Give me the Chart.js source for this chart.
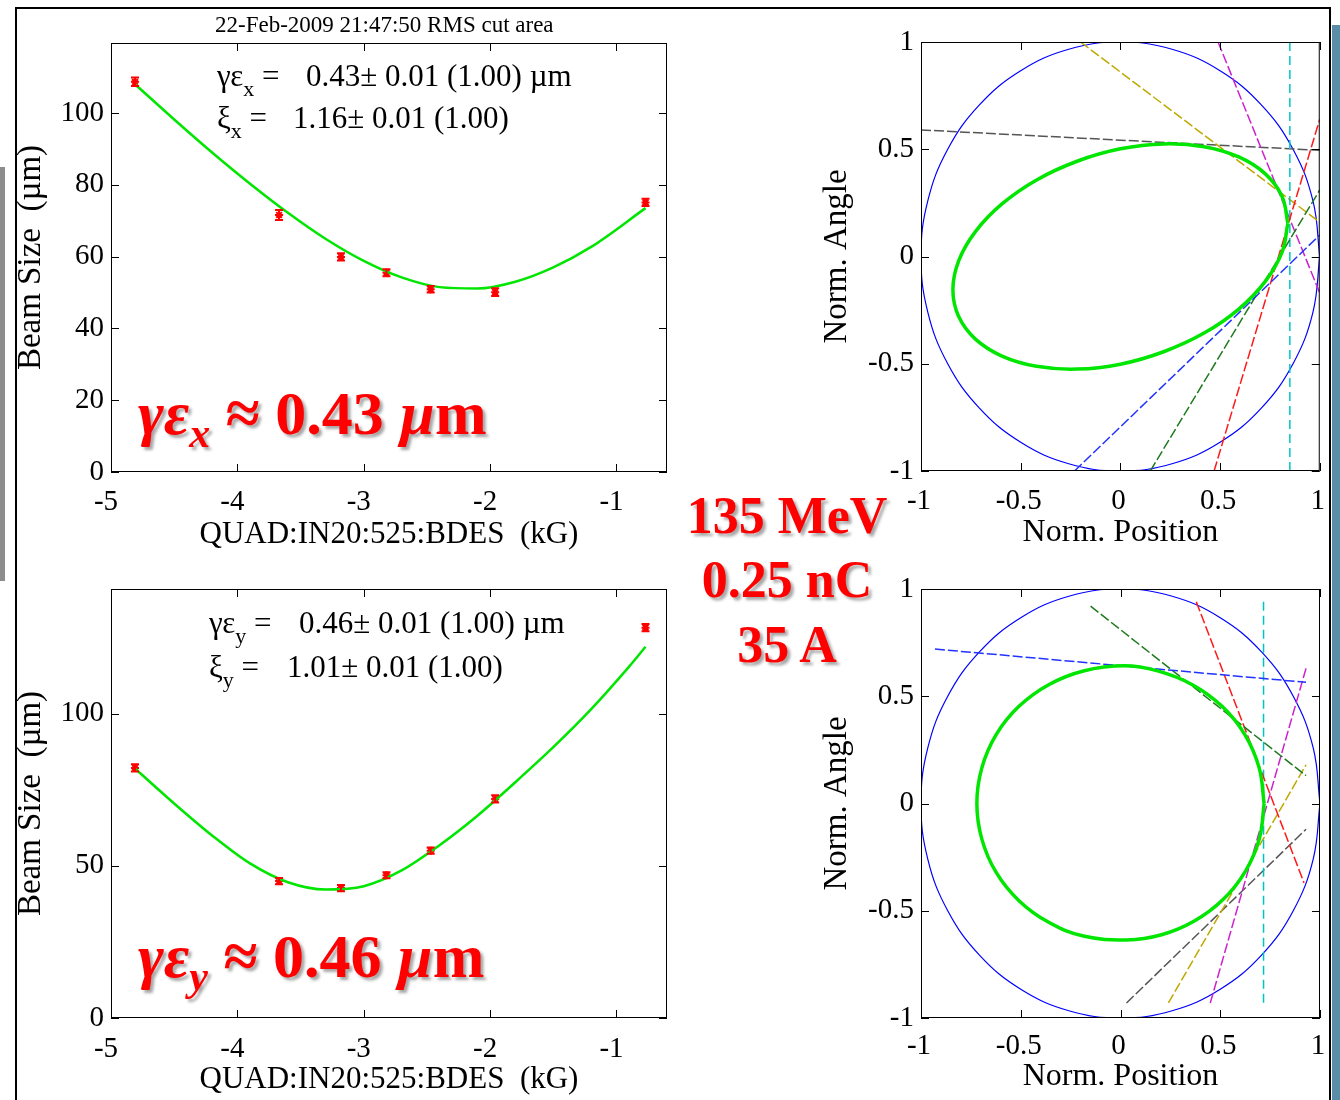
<!DOCTYPE html>
<html>
<head>
<meta charset="utf-8">
<script src="https://cdn.jsdelivr.net/npm/chart.js@4.4.0/dist/chart.umd.min.js"></script>
<style>
body { margin: 0; background: #fff; width: 1340px; height: 1100px; position: relative; overflow: hidden;
  font-family: "Liberation Serif", "Times New Roman", serif; }
canvas { position: absolute; }
.abs { position: absolute; white-space: pre; line-height: 1; color: #000; }
.stat { font-size: 31px; }
.stat sub { font-size: 22px; vertical-align: -10px; line-height: 0; }
.big { font-size: 62px; font-weight: bold; color: #ff0000; text-shadow: 3px 3px 3px rgba(0,0,0,0.35); }
.big i { font-style: italic; }
.big sub { font-size: 42px; font-style: italic; vertical-align: -13px; line-height: 0; }
.mid { font-size: 52px; font-weight: bold; color: #ff0000; text-shadow: 3px 3px 3px rgba(0,0,0,0.35);
  width: 240px; text-align: center; left: 667px; }
</style>
</head>
<body>

<div class="abs" style="left:0;top:167px;width:5px;height:414px;background:#8c8c8c"></div>
<div class="abs" style="left:15px;top:7px;width:1312px;height:1110px;border:2px solid #000;border-bottom:none"></div>
<div class="abs" style="left:1332px;top:25px;width:8px;height:1075px;background:#5a8ea8"></div>

<canvas id="cx" width="680" height="560" style="left:0;top:0"></canvas>
<canvas id="cy" width="680" height="540" style="left:0;top:560px"></canvas>
<canvas id="px" width="550" height="560" style="left:790px;top:0"></canvas>
<canvas id="py" width="550" height="540" style="left:790px;top:560px"></canvas>

<div class="abs" style="left:215px;top:13px;font-size:23px">22-Feb-2009 21:47:50 RMS cut area</div>

<div class="abs stat" style="left:217px;top:60px">γε<sub>x</sub> =</div>
<div class="abs stat" style="left:306px;top:60px">0.43± 0.01 (1.00) µm</div>
<div class="abs stat" style="left:217px;top:102px">ξ<sub>x</sub> =</div>
<div class="abs stat" style="left:293px;top:102px">1.16± 0.01 (1.00)</div>

<div class="abs stat" style="left:209px;top:607px">γε<sub>y</sub> =</div>
<div class="abs stat" style="left:299px;top:607px">0.46± 0.01 (1.00) µm</div>
<div class="abs stat" style="left:209px;top:651px">ξ<sub>y</sub> =</div>
<div class="abs stat" style="left:287px;top:651px">1.01± 0.01 (1.00)</div>

<div class="abs big" style="left:138px;top:382px"><i>γε</i><sub>x</sub> ≈ 0.43 <i>µ</i>m</div>
<div class="abs big" style="left:138px;top:925px"><i>γε</i><sub>y</sub> ≈ 0.46 <i>µ</i>m</div>

<div class="abs mid" style="top:490px">135 MeV</div>
<div class="abs mid" style="top:554px">0.25 nC</div>
<div class="abs mid" style="top:619px">35 A</div>

<script>
// quad scan: measured points (kG, um) and error bars
var quadKG = [-4.81, -3.67, -3.18, -2.82, -2.47, -1.96, -0.77];
var sizeX = [108.7, 71.6, 59.9, 55.5, 50.9, 50.1, 75.1];
var errX = [1.2, 1.4, 1.0, 1.0, 0.9, 1.1, 1.0];
var sizeY = [82.2, 45.0, 42.7, 46.9, 55.0, 72.0, 128.3];
var errY = [1.2, 1.0, 1.0, 1.0, 1.0, 1.2, 1.2];

// fitted curves
var fitQuadX = [-4.81, -4.5, -4.2, -3.9, -3.6, -3.3, -3.0, -2.7, -2.4, -2.1, -1.8, -1.5, -1.2, -0.77];
var fitX = [108.0, 98.2, 89.0, 80.3, 72.2, 64.9, 58.8, 54.2, 51.5, 51.1, 53.0, 57.0, 62.7, 73.5];
var fitQuadY = [-4.81, -4.5, -4.2, -3.9, -3.6, -3.3, -3.0, -2.7, -2.4, -2.1, -1.8, -1.5, -1.2, -0.9, -0.77];
var fitY = [82.0, 70.5, 60.0, 50.8, 44.6, 42.2, 43.3, 48.5, 56.8, 66.5, 77.5, 89.0, 101.5, 115.5, 122.0];

// phase space: unit circle
var circX = [1, 0.966, 0.866, 0.707, 0.5, 0.259, 0, -0.259, -0.5, -0.707, -0.866, -0.966, -1,
  -0.966, -0.866, -0.707, -0.5, -0.259, 0, 0.259, 0.5, 0.707, 0.866, 0.966, 1];
var circY = [0, 0.259, 0.5, 0.707, 0.866, 0.966, 1, 0.966, 0.866, 0.707, 0.5, 0.259, 0,
  -0.259, -0.5, -0.707, -0.866, -0.966, -1, -0.966, -0.866, -0.707, -0.5, -0.259, 0];

// measured beam ellipses
var ellXx = [0.84, 0.811, 0.727, 0.594, 0.42, 0.217, 0, -0.217, -0.42, -0.594, -0.727, -0.811, -0.84,
  -0.811, -0.727, -0.594, -0.42, -0.217, 0, 0.217, 0.42, 0.594, 0.727, 0.811, 0.84];
var ellXy = [0.155, 0.020, -0.116, -0.245, -0.357, -0.444, -0.502, -0.525, -0.512, -0.464, -0.385, -0.280, -0.155,
  -0.020, 0.116, 0.245, 0.357, 0.444, 0.502, 0.525, 0.512, 0.464, 0.385, 0.280, 0.155];
var ellYx = [0.72, 0.695, 0.624, 0.509, 0.36, 0.186, 0.02, -0.186, -0.36, -0.509, -0.624, -0.695, -0.72,
  -0.695, -0.624, -0.509, -0.36, -0.186, 0.03, 0.206, 0.37, 0.514, 0.626, 0.696, 0.72];
var ellYy = [0, 0.166, 0.32, 0.453, 0.554, 0.618, 0.642, 0.618, 0.554, 0.453, 0.32, 0.166, 0,
  -0.166, -0.32, -0.453, -0.554, -0.618, -0.636, -0.612, -0.548, -0.448, -0.316, -0.164, 0];

// one line per quad setting: start / end points (blue, green, red, cyan, magenta, yellow, black)
var topLx0 = [-0.23, 0.15, 0.47, 0.85, 0.49, -0.2, -1];
var topLy0 = [-1, -1, -1, 1, 1, 1, 0.59];
var topLx1 = [1, 1, 1, 0.85, 1, 1, 1];
var topLy1 = [0.1, 0.31, 0.64, -1, -0.17, 0.16, 0.495];
var botLx0 = [-0.93, -0.15, 0.38, 0.717, 0.45, 0.24, 0.03];
var botLy0 = [0.72, 0.92, 0.94, 0.94, -0.93, -0.93, -0.93];
var botLx1 = [0.93, 0.93, 0.92, 0.717, 0.93, 0.93, 0.93];
var botLy1 = [0.565, 0.13, -0.37, -0.93, 0.63, 0.18, -0.12];

var lineColors = ['#2233ff', '#1f7a1f', '#ff1a1a', '#00c4c4', '#cc22cc', '#bfa800', '#555555'];
var FONT = '"Liberation Serif", "Times New Roman", serif';

function pairs(xs, ys) {
  return xs.map(function (x, i) { return { x: x, y: ys[i] }; });
}

// box round the plot with inward ticks on all four sides
var boxTicks = {
  id: 'boxTicks',
  afterDatasetsDraw: function (chart) {
    var ctx = chart.ctx, a = chart.chartArea;
    var sx = chart.scales.x, sy = chart.scales.y;
    ctx.save();
    ctx.strokeStyle = '#000';
    ctx.lineWidth = 1;
    ctx.strokeRect(a.left + 0.5, a.top + 0.5, a.right - a.left - 1, a.bottom - a.top - 1);
    ctx.beginPath();
    sx.ticks.forEach(function (t) {
      var p = Math.round(sx.getPixelForValue(t.value)) + 0.5;
      ctx.moveTo(p, a.bottom); ctx.lineTo(p, a.bottom - 8);
      ctx.moveTo(p, a.top); ctx.lineTo(p, a.top + 8);
    });
    sy.ticks.forEach(function (t) {
      var p = Math.round(sy.getPixelForValue(t.value)) + 0.5;
      ctx.moveTo(a.left, p); ctx.lineTo(a.left + 8, p);
      ctx.moveTo(a.right, p); ctx.lineTo(a.right - 8, p);
    });
    ctx.stroke();
    ctx.restore();
  }
};

var errorBars = {
  id: 'errorBars',
  afterDatasetsDraw: function (chart) {
    var ctx = chart.ctx, sx = chart.scales.x, sy = chart.scales.y;
    chart.data.datasets.forEach(function (ds) {
      if (!ds.errors) return;
      ctx.save();
      ctx.strokeStyle = '#ff0000';
      ctx.lineWidth = 2;
      ds.data.forEach(function (p, i) {
        var px = sx.getPixelForValue(p.x);
        var top = sy.getPixelForValue(p.y + ds.errors[i]);
        var bot = sy.getPixelForValue(p.y - ds.errors[i]);
        ctx.beginPath();
        ctx.moveTo(px, top); ctx.lineTo(px, bot);
        ctx.moveTo(px - 4, top); ctx.lineTo(px + 4, top);
        ctx.moveTo(px - 4, bot); ctx.lineTo(px + 4, bot);
        ctx.stroke();
      });
      ctx.restore();
    });
  }
};

function plainLabel(v) { return String(v); }

function makeOptions(c) {
  return {
    responsive: false,
    animation: false,
    events: [],
    layout: { padding: { left: 0, right: c.padRight, top: c.padTop, bottom: 0 } },
    plugins: { legend: { display: false }, tooltip: { enabled: false } },
    scales: {
      x: {
        type: 'linear', min: c.xMin, max: c.xMax,
        grid: { display: false, drawTicks: false }, border: { display: false },
        ticks: { stepSize: c.xStep, includeBounds: false, padding: c.xTickPad, labelOffset: c.labelOffset,
          color: '#000', font: { family: FONT, size: 29 }, callback: plainLabel },
        title: { display: true, text: c.xTitle, color: '#000', padding: { top: 0, bottom: c.xTitlePad },
          font: { family: FONT, size: c.xTitleSize } },
        afterFit: function (s) { s.height = c.xHeight; }
      },
      y: {
        type: 'linear', min: c.yMin, max: c.yMax,
        grid: { display: false, drawTicks: false }, border: { display: false },
        ticks: { stepSize: c.yStep, includeBounds: false, padding: 7, color: '#000',
          font: { family: FONT, size: 29 }, callback: plainLabel },
        title: { display: true, text: c.yTitle, color: '#000', padding: { top: c.yTitlePad, bottom: 0 },
          font: { family: FONT, size: 33 } },
        afterFit: function (s) { s.width = c.yWidth; }
      }
    }
  };
}

function scanChart(id, fitQ, fitS, sizes, errs, yMax, yStep, padTop, xHeight, xTickPad, xTitlePad) {
  new Chart(document.getElementById(id), {
    type: 'scatter',
    data: {
      datasets: [
        { data: pairs(fitQ, fitS), showLine: true, borderColor: '#00e600', borderWidth: 2.5,
          pointRadius: 0, cubicInterpolationMode: 'monotone' },
        { data: pairs(quadKG, sizes), errors: errs, pointStyle: 'star', pointRadius: 4,
          borderColor: '#ff0000', backgroundColor: '#ff0000', borderWidth: 2 }
      ]
    },
    options: makeOptions({
      padRight: 13, padTop: padTop, xMin: -5, xMax: -0.6, xStep: 1, xTickPad: xTickPad, labelOffset: -5,
      xTitle: 'QUAD:IN20:525:BDES  (kG)', xTitleSize: 31, xTitlePad: xTitlePad, xHeight: xHeight,
      yMin: 0, yMax: yMax, yStep: yStep, yTitle: 'Beam Size  (µm)', yTitlePad: 12, yWidth: 111
    }),
    plugins: [boxTicks, errorBars]
  });
}

function phaseChart(id, ex, ey, lx0, ly0, lx1, ly1, padTop, xHeight, xTickPad, xTitlePad) {
  var sets = [
    { data: pairs(ex, ey), showLine: true, borderColor: '#00e600', borderWidth: 3.5,
      pointRadius: 0, tension: 0.4 }
  ];
  lx0.forEach(function (x, i) {
    sets.push({ data: pairs([x, lx1[i]], [ly0[i], ly1[i]]), showLine: true,
      borderColor: lineColors[i], borderWidth: 1.5, borderDash: i === 3 ? [9, 5] : [10, 3],
      pointRadius: 0 });
  });
  sets.push({ data: pairs(circX, circY), showLine: true, borderColor: '#0000ff', borderWidth: 1.2,
    pointRadius: 0, tension: 0.4 });
  new Chart(document.getElementById(id), {
    type: 'scatter',
    data: { datasets: sets },
    options: makeOptions({
      padRight: 20, padTop: padTop, xMin: -1, xMax: 1, xStep: 0.5, xTickPad: xTickPad, labelOffset: -2,
      xTitle: 'Norm. Position', xTitleSize: 32, xTitlePad: xTitlePad, xHeight: xHeight,
      yMin: -1, yMax: 1, yStep: 0.5, yTitle: 'Norm. Angle', yTitlePad: 28, yWidth: 131
    }),
    plugins: [boxTicks]
  });
}

scanChart('cx', fitQuadX, fitX, sizeX, errX, 119.5, 20, 43, 88, 13, 7);
scanChart('cy', fitQuadY, fitY, sizeY, errY, 141, 50, 29, 82, 14, 2);
phaseChart('px', ellXx, ellXy, topLx0, topLy0, topLx1, topLy1, 42, 89, 13, 8);
phaseChart('py', ellYx, ellYy, botLx0, botLy0, botLx1, botLy1, 29, 82, 11, 4);
</script>
</body>
</html>
